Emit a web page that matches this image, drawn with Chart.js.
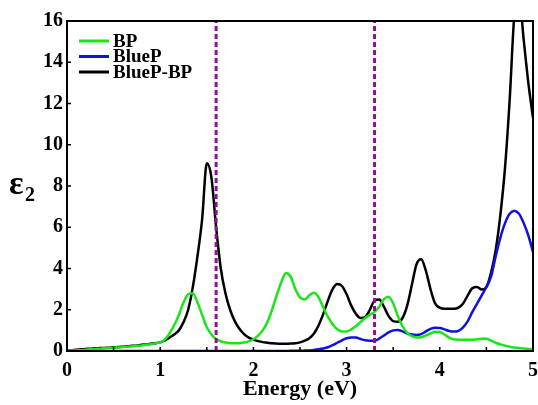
<!DOCTYPE html>
<html>
<head>
<meta charset="utf-8">
<script src="https://cdn.jsdelivr.net/npm/chart.js@4/dist/chart.umd.min.js"></script>
<style>
  html, body { margin: 0; padding: 0; background: #fff; }
  #wrap { width: 538px; height: 405px; }
</style>
</head>
<body>
<div id="wrap"><canvas id="eps-chart"></canvas></div>
<script>
// photon energy grid (eV), step 0.05
const energy = [
  0.00, 0.05, 0.10, 0.15, 0.20, 0.25, 0.30, 0.35, 0.40, 0.45,
  0.50, 0.55, 0.60, 0.65, 0.70, 0.75, 0.80, 0.85, 0.90, 0.95,
  1.00, 1.05, 1.10, 1.15, 1.20, 1.25, 1.30, 1.35, 1.40, 1.45,
  1.50, 1.55, 1.60, 1.65, 1.70, 1.75, 1.80, 1.85, 1.90, 1.95,
  2.00, 2.05, 2.10, 2.15, 2.20, 2.25, 2.30, 2.35, 2.40, 2.45,
  2.50, 2.55, 2.60, 2.65, 2.70, 2.75, 2.80, 2.85, 2.90, 2.95,
  3.00, 3.05, 3.10, 3.15, 3.20, 3.25, 3.30, 3.35, 3.40, 3.45,
  3.50, 3.55, 3.60, 3.65, 3.70, 3.75, 3.80, 3.85, 3.90, 3.95,
  4.00, 4.05, 4.10, 4.15, 4.20, 4.25, 4.30, 4.35, 4.40, 4.45,
  4.50, 4.55, 4.60, 4.65, 4.70, 4.75, 4.80, 4.85, 4.90, 4.95,
  5.00,
];

const bpValues = [
  0.01, 0.02, 0.03, 0.04, 0.06, 0.08, 0.10, 0.11, 0.13, 0.14,
  0.16, 0.17, 0.19, 0.21, 0.23, 0.25, 0.27, 0.30, 0.33, 0.37,
  0.42, 0.55, 0.85, 1.25, 1.75, 2.35, 2.75, 2.80, 2.35, 1.75,
  1.15, 0.80, 0.58, 0.47, 0.41, 0.38, 0.37, 0.38, 0.41, 0.47,
  0.57, 0.75, 1.00, 1.40, 2.00, 2.70, 3.35, 3.78, 3.60, 3.00,
  2.60, 2.50, 2.70, 2.83, 2.60, 2.10, 1.65, 1.30, 1.05, 0.95,
  0.95, 1.05, 1.20, 1.40, 1.60, 1.75, 1.90, 2.15, 2.50, 2.63,
  2.30, 1.70, 1.20, 0.88, 0.72, 0.66, 0.67, 0.75, 0.85, 0.93,
  0.92, 0.80, 0.65, 0.57, 0.55, 0.54, 0.54, 0.55, 0.57, 0.60,
  0.60, 0.50, 0.40, 0.32, 0.26, 0.21, 0.17, 0.14, 0.12, 0.10,
  0.08,
];

const bluePValues = [
  0.00, 0.00, 0.00, 0.00, 0.00, 0.00, 0.00, 0.00, 0.00, 0.00,
  0.00, 0.00, 0.00, 0.00, 0.00, 0.00, 0.00, 0.00, 0.00, 0.00,
  0.00, 0.00, 0.00, 0.00, 0.00, 0.00, 0.00, 0.00, 0.00, 0.00,
  0.00, 0.00, 0.00, 0.00, 0.00, 0.00, 0.00, 0.00, 0.00, 0.00,
  0.00, 0.00, 0.00, 0.00, 0.00, 0.00, 0.00, 0.00, 0.01, 0.01,
  0.01, 0.02, 0.03, 0.05, 0.08, 0.12, 0.18, 0.28, 0.40, 0.52,
  0.62, 0.66, 0.65, 0.58, 0.52, 0.50, 0.50, 0.60, 0.75, 0.90,
  1.00, 1.02, 0.95, 0.85, 0.80, 0.78, 0.82, 0.95, 1.07, 1.13,
  1.12, 1.05, 0.97, 0.94, 0.98, 1.15, 1.45, 1.90, 2.30, 2.70,
  3.10, 3.60, 4.60, 5.50, 6.20, 6.65, 6.80, 6.65, 6.20, 5.60,
  4.80,
];

const heteroValues = [
  0.02, 0.04, 0.06, 0.08, 0.10, 0.11, 0.13, 0.14, 0.15, 0.16,
  0.18, 0.19, 0.21, 0.23, 0.25, 0.27, 0.30, 0.32, 0.35, 0.38,
  0.42, 0.52, 0.65, 0.80, 1.00, 1.40, 2.00, 3.10, 4.60, 6.40,
  9.10, 8.40, 6.00, 4.00, 2.80, 2.00, 1.45, 1.08, 0.82, 0.65,
  0.55, 0.48, 0.43, 0.40, 0.37, 0.36, 0.35, 0.35, 0.36, 0.38,
  0.42, 0.50, 0.62, 0.85, 1.25, 1.80, 2.45, 3.00, 3.25, 3.15,
  2.75, 2.20, 1.80, 1.60, 1.65, 2.00, 2.45, 2.50, 2.15, 1.70,
  1.45, 1.42, 1.60, 2.20, 3.20, 4.20, 4.45, 3.90, 3.00, 2.30,
  2.10, 2.05, 2.05, 2.05, 2.10, 2.30, 2.70, 3.05, 3.10, 2.98,
  3.10, 3.80, 4.90, 6.60, 8.90, 12.20, 16.30, 17.20, 15.10, 13.00,
  11.30,
];

const seriesNames = ["BP", "BlueP", "BlueP-BP"];
const seriesColors = ["#19e619", "#1010e0", "#000000"];
const gapMarkers = [1.6, 3.3];

const xTicks = [0, 1, 2, 3, 4, 5];
const yTicks = [0, 2, 4, 6, 8, 10, 12, 14, 16];

const serif = "'Liberation Serif', 'Times New Roman', serif";

function toPoints(values) {
  return values.map((v, i) => ({ x: energy[i], y: v }));
}

const curveDatasets = [bpValues, bluePValues, heteroValues].map((vals, i) => ({
  label: seriesNames[i],
  data: toPoints(vals),
  borderColor: seriesColors[i],
  borderWidth: 2.5,
  pointRadius: 0,
  cubicInterpolationMode: "monotone",
  fill: false,
}));

const markerDatasets = gapMarkers.map((e) => ({
  label: "gap " + e,
  data: [{ x: e, y: 0 }, { x: e, y: 16 }],
  borderColor: "#8b138b",
  borderWidth: 3,
  borderDash: [5, 3],
  pointRadius: 0,
  fill: false,
}));

// frame, inward ticks, legend and the eps_2 label
const decorPlugin = {
  id: "decor",
  afterDraw(chart) {
    const { ctx, chartArea: a, scales } = chart;
    ctx.save();
    ctx.strokeStyle = "#000";
    ctx.lineWidth = 1.5;
    for (let e = 0.5; e < 5; e += 0.5) {
      const px = scales.x.getPixelForValue(e);
      ctx.beginPath();
      ctx.moveTo(px, a.bottom);
      ctx.lineTo(px, a.bottom - 4);
      ctx.stroke();
    }
    yTicks.slice(1, -1).forEach((v) => {
      const py = scales.y.getPixelForValue(v);
      ctx.beginPath();
      ctx.moveTo(a.left, py);
      ctx.lineTo(a.left + 4, py);
      ctx.stroke();
    });
    ctx.lineWidth = 2;
    ctx.strokeRect(a.left, a.top, a.right - a.left, a.bottom - a.top);

    // legend
    ctx.font = "bold 19px " + serif;
    ctx.textBaseline = "middle";
    seriesNames.forEach((name, i) => {
      const y = 41 + i * 15.5;
      ctx.strokeStyle = seriesColors[i];
      ctx.lineWidth = 3;
      ctx.beginPath();
      ctx.moveTo(79, y);
      ctx.lineTo(109, y);
      ctx.stroke();
      ctx.fillStyle = "#000";
      ctx.fillText(name, 113, y + 1);
    });

    // y title
    ctx.textBaseline = "alphabetic";
    ctx.font = "bold 34px " + serif;
    ctx.fillText("\u03b5", 9, 194);
    ctx.font = "bold 20px " + serif;
    ctx.fillText("2", 25, 201);
    ctx.restore();
  },
};

new Chart(document.getElementById("eps-chart"), {
  type: "line",
  data: { datasets: [...markerDatasets, ...curveDatasets] },
  options: {
    responsive: true,
    maintainAspectRatio: false,
    animation: false,
    layout: { padding: { top: 21, right: 5, left: 0, bottom: 0 } },
    plugins: {
      legend: { display: false },
      tooltip: { enabled: false },
    },
    scales: {
      x: {
        type: "linear",
        min: 0,
        max: 5,
        afterFit: (s) => {
          s.height = 54;
          s.paddingLeft = 0;
          s.paddingRight = 0;
        },
        afterBuildTicks: (s) => { s.ticks = xTicks.map((v) => ({ value: v })); },
        grid: { display: false, drawTicks: false },
        border: { display: false },
        ticks: {
          color: "#000",
          padding: 8,
          font: { family: serif, size: 20, weight: "bold" },
        },
        title: {
          display: true,
          text: "Energy (eV)",
          color: "#000",
          padding: { top: 0, bottom: 2 },
          font: { family: serif, size: 22, weight: "bold" },
        },
      },
      y: {
        min: 0,
        max: 16,
        afterFit: (s) => {
          s.width = 67;
          s.paddingTop = 0;
          s.paddingBottom = 0;
        },
        afterBuildTicks: (s) => { s.ticks = yTicks.map((v) => ({ value: v })); },
        grid: { display: false, drawTicks: false },
        border: { display: false },
        ticks: {
          color: "#000",
          padding: 4,
          font: { family: serif, size: 20, weight: "bold" },
        },
      },
    },
  },
  plugins: [decorPlugin],
});
</script>
</body>
</html>
